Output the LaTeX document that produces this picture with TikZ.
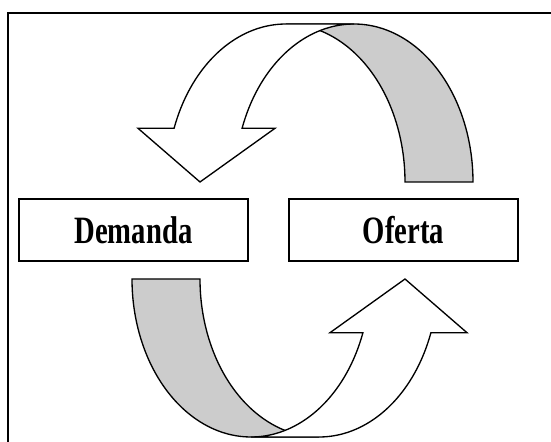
\documentclass[tikz,border=0pt]{standalone}
\usepackage{fontspec}
\usepackage{graphicx}
\setmainfont{Liberation Serif}
\definecolor{bandgray}{RGB}{204,204,204}
% One curved ribbon arrow: shaded back band (tail) and white front band with head.
% Ellipses share radii (119, 158); the front one is shifted left by the band width.
\newcommand\marketarrow{%
  \path[backband]
    plot[domain=270:360] ({354+119*cos(\t)},{182+158*sin(\t)})
    -- plot[domain=360:270] ({286+119*cos(\t)},{182+158*sin(\t)}) -- cycle;
  \path[frontband]
    plot[domain=270:199.9] ({286+119*cos(\t)},{182+158*sin(\t)})
    -- (138,128.3) -- (200,182) -- (275,128.3)
    -- plot[domain=199.9:270] ({354+119*cos(\t)},{182+158*sin(\t)}) -- cycle;
}
% box caption, set in tall bold type
\newcommand\tallword[1]{\scalebox{1}[1.35]{#1}}
\begin{document}
\begin{tikzpicture}[x=0.75pt,y=-0.75pt,variable=\t,samples=80,
  outline/.style={draw=black,line width=1pt,line join=miter},
  backband/.style={outline,fill=bandgray},
  frontband/.style={outline,fill=white},
  marketbox/.style={draw=black,line width=1pt,fill=white,
    minimum width=171.75pt,minimum height=46.5pt,inner sep=0pt,
    font=\fontsize{21.5}{25}\selectfont\bfseries}]
\useasboundingbox (0,0) rectangle (551,442);
\clip (0,0) rectangle (551,442);
\fill[white] (0,0) rectangle (551,442);

% frame
\draw[line width=1.5pt] (8,470) -- (8,12.7) -- (580,12.7);

% upper arrow: supply feeds demand
\marketarrow
% lower arrow: demand feeds supply (same shape turned half a turn)
\begin{scope}[rotate around={180:(302.5,230.5)}]
  \marketarrow
\end{scope}

\node[marketbox] (demanda) at (133.5,230) {\tallword{Demanda}};
\node[marketbox] (oferta) at (403.5,230) {\tallword{Oferta}};
\end{tikzpicture}
\end{document}
